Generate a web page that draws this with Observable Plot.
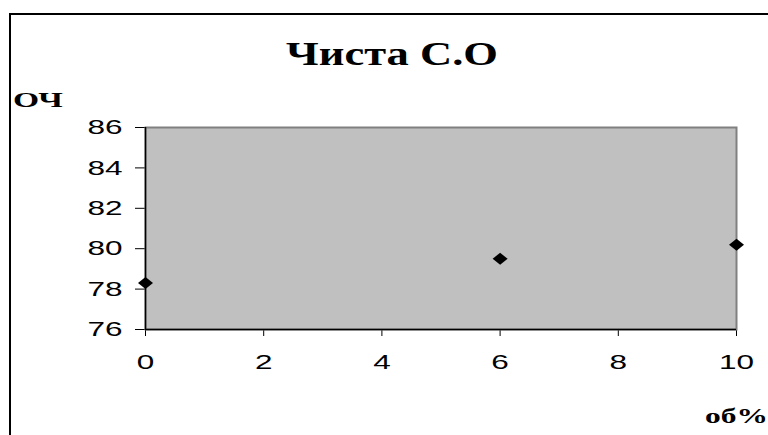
<!DOCTYPE html>
<html><head><meta charset="utf-8">
<script src="https://cdn.jsdelivr.net/npm/d3@7"></script>
<script src="https://cdn.jsdelivr.net/npm/@observablehq/plot@0.6"></script>
<style>body{margin:0;background:#fff;overflow:hidden;} svg{display:block;}</style>
</head><body><div id="chart"></div>
<script>
const xValues = [0, 6, 10];
const yValues = [78.3, 79.5, 80.2];
const xTicks = [0, 2, 4, 6, 8, 10];
const yTicks = [76, 78, 80, 82, 84, 86];
const titleText = "Чиста С.О";
const yLabelText = "ОЧ";
const xLabelText = "об%";

const data = xValues.map((x, i) => ({x, y: yValues[i]}));
const diamond = {
  draw(ctx, size) {
    const r = Math.sqrt(size / Math.PI);
    const w = r * 1.25, h = r;
    ctx.moveTo(0, -h); ctx.lineTo(w, 0); ctx.lineTo(0, h); ctx.lineTo(-w, 0); ctx.closePath();
  }
};

const svg = Plot.plot({
  width: 768, height: 435,
  marginLeft: 145, marginRight: 32, marginTop: 127, marginBottom: 106,
  style: {fontFamily: '"Liberation Sans", Arial, sans-serif', fontSize: "21px", background: "#fff", color: "#000", overflow: "hidden"},
  x: {domain: [0, 10], ticks: xTicks, tickSize: 7, tickPadding: 18, label: null, tickFormat: d => String(d)},
  y: {domain: [76, 86], ticks: yTicks, tickSize: 10, tickPadding: 13, label: null, tickFormat: d => String(d)},
  marks: [
    Plot.frame({fill: "#c0c0c0", stroke: "#808080", strokeWidth: 2}),
    Plot.ruleX([0], {stroke: "#000", strokeWidth: 1.5}),
    Plot.ruleY([76], {stroke: "#000", strokeWidth: 1.5}),
    Plot.dot(data, {x: "x", y: "y", r: 6, symbol: diamond, fill: "#000", stroke: "none"})
  ]
});
document.getElementById("chart").appendChild(svg);

function stretch(el, s) {
  const t = el.getAttribute("transform") || "";
  const x = el.getAttribute("x");
  if (x !== null && !isNaN(+x)) el.setAttribute("x", +x / s);
  el.setAttribute("transform", `${t} scale(${s},1)`);
}
d3.select(svg).selectAll('g[aria-label="x-axis tick label"] text, g[aria-label="y-axis tick label"] text')
  .each(function() { stretch(this, 1.5); });

const root = d3.select(svg);
root.append("rect").attr("x", 10).attr("y", 14).attr("width", 800).attr("height", 500)
  .attr("fill", "none").attr("stroke", "#000").attr("stroke-width", 2);
const serif = '"Liberation Serif", "Times New Roman", serif';
root.append("text").text(titleText)
  .attr("transform", "translate(392,65) scale(1.35,1)")
  .attr("text-anchor", "middle").attr("font-family", serif).attr("font-weight", "bold").attr("font-size", 33).attr("fill", "#000");
root.append("text").text(yLabelText)
  .attr("transform", "translate(13,107) scale(1.6,1)")
  .attr("text-anchor", "start").attr("font-family", serif).attr("font-weight", "bold").attr("font-size", 21).attr("fill", "#000");
root.append("text").text(xLabelText)
  .attr("transform", "translate(705,423) scale(1.5,1)")
  .attr("text-anchor", "start").attr("font-family", serif).attr("font-weight", "bold").attr("font-size", 21).attr("fill", "#000");
</script>
</body></html>
